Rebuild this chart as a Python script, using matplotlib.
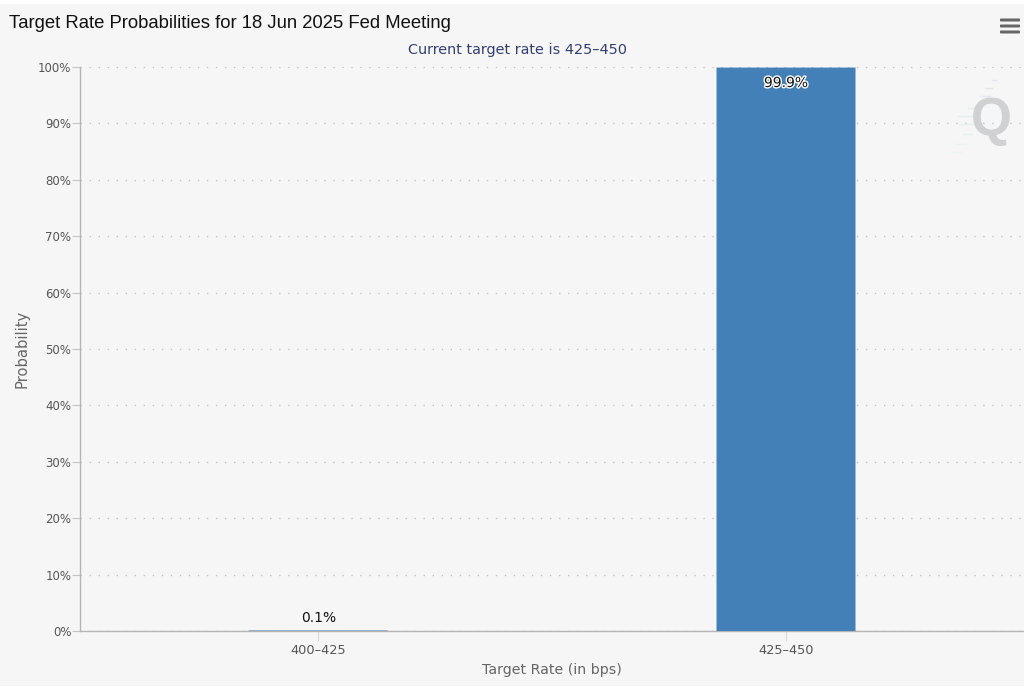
#!/usr/bin/env python3
import matplotlib
matplotlib.use('Agg')
import matplotlib.pyplot as plt
import matplotlib.patheffects as pe
from matplotlib.patches import FancyBboxPatch, Rectangle
import numpy as np

W, H = 1024, 690

# Data
rates = ['400–425', '425–450']
probs = [0.1, 99.9]
prob_labels = ['0.1%', '99.9%']
y_ticks = np.arange(0, 101, 10)

bg = '#f6f6f6'
fig = plt.figure(figsize=(W / 100, H / 100), dpi=100, facecolor='white')
fig.patches.append(Rectangle((0, 4 / H), 1, (H - 8) / H, transform=fig.transFigure,
                             facecolor=bg, edgecolor='none', zorder=-5))

# Plot area in pixels: x 80..1024, y 67..631
ax = fig.add_axes([80 / W, (H - 631) / H, 944 / W, 564 / H])
ax.set_facecolor(bg)
x = np.arange(len(rates))
ax.set_xlim(-0.5085, 1.5085)
ax.set_ylim(0, 100)

# Bars (the small one sits under the axis line)
for xi, p in zip(x, probs):
    if p > 1:
        ax.add_patch(FancyBboxPatch((xi - 0.1485, 0), 0.297, p,
                                    boxstyle='round,pad=0,rounding_size=0.004',
                                    mutation_aspect=0.6,
                                    facecolor='#4480b8', edgecolor='none', zorder=3))
    else:
        small = ax.bar(xi, p, width=0.297, color='#4480b8', zorder=2)
        small[0].set_snap(False)

# Value labels
ax.text(x[0] + 0.001, probs[0] + 1.0, prob_labels[0], ha='center', va='bottom',
        fontsize=10, color='#111111', zorder=5)
ax.text(x[1], probs[1] - 1.5, prob_labels[1], ha='center', va='top',
        fontsize=10, color='#111111', zorder=5,
        path_effects=[pe.withStroke(linewidth=2, foreground='white')])

# Axes styling
for s in ['top', 'right']:
    ax.spines[s].set_visible(False)
for s in ['left', 'bottom']:
    ax.spines[s].set_color('#b4b4b4')
    ax.spines[s].set_linewidth(1)
ax.set_yticks(y_ticks)
ax.set_yticklabels([f'{v}%' for v in y_ticks], fontsize=8.5, color='#555555')
ax.set_xticks(x)
ax.set_xticklabels(rates, fontsize=9.3, color='#555555')
ax.tick_params(axis='y', length=5.8, width=0.8, color='#c4c4c4', pad=0.5)
ax.tick_params(axis='x', length=7.5, width=0.8, color='#d8d8d8', pad=1.5)
ax.grid(axis='y', color='#c4c4c4', linewidth=1, linestyle=(0, (1, 5.5)), zorder=1)
ax.set_axisbelow(True)

# Titles
fig.text(9 / W, 1 - 23 / H, 'Target Rate Probabilities for 18 Jun 2025 Fed Meeting',
         family='Liberation Sans', fontsize=13.3, color='#111111', va='center', ha='left')
fig.text(517 / W, 1 - 50 / H, 'Current target rate is 425–450', fontsize=10.4,
         color='#333f70', ha='center', va='center')
fig.text(22 / W, 1 - 348.5 / H, 'Probability', rotation=90, fontsize=10.6,
         color='#666666', ha='center', va='center')
fig.text(552 / W, 1 - 670 / H, 'Target Rate (in bps)', fontsize=10.2,
         color='#666666', ha='center', va='center')

# Menu icon
for py in (20, 26, 32):
    fig.patches.append(FancyBboxPatch((1000 / W, 1 - (py + 1.5) / H), 20 / W, 3 / H,
                                      boxstyle='round,pad=0,rounding_size=0.001',
                                      transform=fig.transFigure, facecolor='#666666',
                                      edgecolor='none'))

# Watermark
fig.text(991 / W, 1 - 121 / H, 'Q', family='Liberation Sans', fontweight='bold', fontsize=38,
         color='#cfd1d2', ha='center', va='center', zorder=4)
for py, x0, x1, col in [(80, 992, 996, '#e6e9f2'), (88, 985, 992, '#e3e7f2'),
                        (96, 980, 990, '#e6e9f2'), (108, 968, 976, '#e6eef0'),
                        (116, 958, 975, '#e4eeee'), (124, 960, 975, '#e4f0ee'),
                        (134, 963, 972, '#e4f2f0'), (144, 956, 966, '#e6f4f2'),
                        (152, 953, 960, '#eaf5f3')]:
    fig.add_artist(plt.Line2D([x0 / W, x1 / W], [1 - py / H, 1 - py / H], color=col, lw=1))

fig.savefig('out.png', dpi=100, facecolor=fig.get_facecolor())
